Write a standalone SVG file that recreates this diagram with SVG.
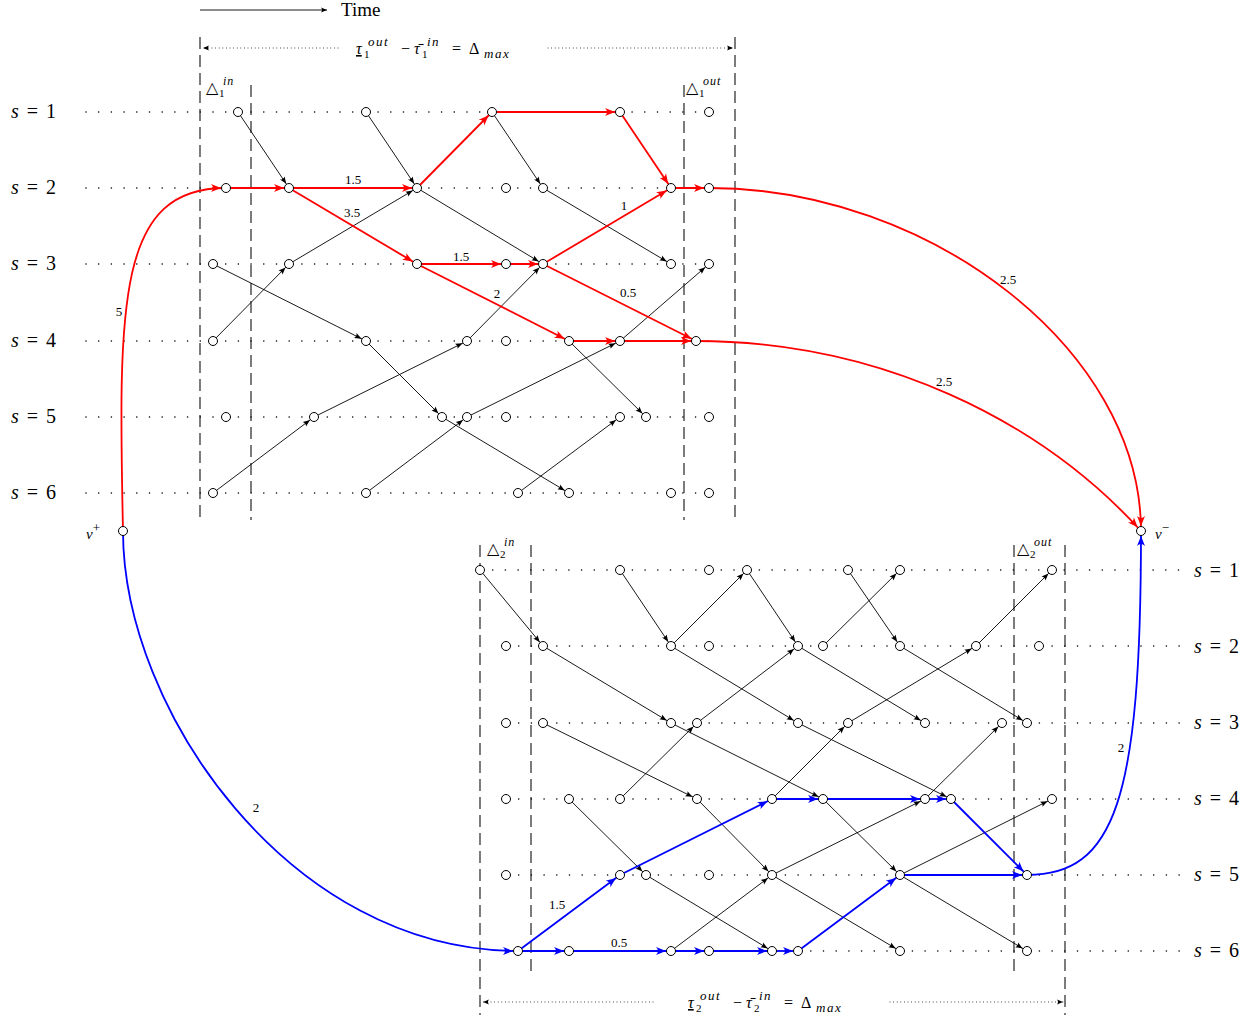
<svg xmlns="http://www.w3.org/2000/svg" width="1257" height="1018" viewBox="0 0 1257 1018">
<style>
text{font-family:"Liberation Serif","DejaVu Serif",serif;fill:#000}
.it{font-style:italic}
.row{stroke:#000;stroke-width:1.6;stroke-dasharray:0 12.7;stroke-linecap:round;fill:none}
.fd{stroke:#000;stroke-width:0.9;stroke-dasharray:0 3.6;stroke-linecap:round;fill:none}
.dash{stroke:#111;stroke-width:1.1;stroke-dasharray:12 6;fill:none}
.k{stroke:#000;stroke-width:0.9;fill:none;marker-end:url(#ak)}
.r{stroke:#f00;stroke-width:1.8;fill:none;marker-end:url(#ar)}
.b{stroke:#00f;stroke-width:1.8;fill:none;marker-end:url(#ab)}
.n{fill:#fff;stroke:#000;stroke-width:1}
.el{font-size:13px;text-anchor:middle;fill:#000}
.sl{font-size:20px;word-spacing:3px}
</style>
<defs>
<marker id="ak" markerUnits="userSpaceOnUse" viewBox="-20 -10 30 20" markerWidth="30" markerHeight="20" refX="5" refY="0" orient="auto" overflow="visible"><path d="M0,0 L-7,-2.8 Q-5,0 -7,2.8 Z" fill="#000"/></marker>
<marker id="ar" markerUnits="userSpaceOnUse" viewBox="-20 -10 30 20" markerWidth="30" markerHeight="20" refX="5" refY="0" orient="auto" overflow="visible"><path d="M0,0 L-10,-4 Q-6,0 -10,4 Z" fill="#f00"/></marker>
<marker id="ab" markerUnits="userSpaceOnUse" viewBox="-20 -10 30 20" markerWidth="30" markerHeight="20" refX="5" refY="0" orient="auto" overflow="visible"><path d="M0,0 L-10,-4 Q-6,0 -10,4 Z" fill="#00f"/></marker>
<marker id="as" markerUnits="userSpaceOnUse" viewBox="-20 -10 30 20" markerWidth="30" markerHeight="20" refX="0" refY="0" orient="auto" overflow="visible"><path d="M0,0 L-6,-2.5 Q-4,0 -6,2.5 Z" fill="#000"/></marker>
</defs>

<g id="header">
<line x1="200" y1="10" x2="327" y2="10" stroke="#000" stroke-width="0.9" marker-end="url(#as)"/>
<text x="341" y="16" font-size="19">Time</text>
<line class="fd" x1="338" y1="48" x2="203" y2="48" marker-end="url(#as)"/>
<line class="fd" x1="548" y1="48" x2="733" y2="48" marker-end="url(#as)"/>
<text y="54" font-size="16"><tspan x="356" class="it" text-decoration="underline">τ</tspan><tspan x="364" dy="4" font-size="11">1</tspan><tspan x="368" dy="-12" font-size="13" class="it" letter-spacing="1.5">out</tspan><tspan x="401" dy="8">−</tspan><tspan x="414" class="it">τ̄</tspan><tspan x="422" dy="4" font-size="11">1</tspan><tspan x="427" dy="-12" font-size="13" class="it" letter-spacing="1.5">in</tspan><tspan x="452" dy="8">=</tspan><tspan x="469">Δ</tspan><tspan x="484" dy="4" font-size="13" class="it" letter-spacing="1.5">max</tspan></text>
<line class="fd" x1="653" y1="1002" x2="483" y2="1002" marker-end="url(#as)"/>
<line class="fd" x1="890" y1="1002" x2="1063" y2="1002" marker-end="url(#as)"/>
<text y="1008" font-size="16"><tspan x="688" class="it" text-decoration="underline">τ</tspan><tspan x="696" dy="4" font-size="11">2</tspan><tspan x="700" dy="-12" font-size="13" class="it" letter-spacing="1.5">out</tspan><tspan x="733" dy="8">−</tspan><tspan x="746" class="it">τ̄</tspan><tspan x="754" dy="4" font-size="11">2</tspan><tspan x="759" dy="-12" font-size="13" class="it" letter-spacing="1.5">in</tspan><tspan x="784" dy="8">=</tspan><tspan x="801">Δ</tspan><tspan x="816" dy="4" font-size="13" class="it" letter-spacing="1.5">max</tspan></text>
<text y="93" font-size="16"><tspan x="206">△</tspan><tspan x="219" dy="4" font-size="11">1</tspan><tspan x="223" dy="-12" font-size="12" class="it" letter-spacing="1">in</tspan></text>
<text y="93" font-size="16"><tspan x="686">△</tspan><tspan x="699" dy="4" font-size="11">1</tspan><tspan x="703" dy="-12" font-size="12" class="it" letter-spacing="1">out</tspan></text>
<text y="554" font-size="16"><tspan x="487">△</tspan><tspan x="500" dy="4" font-size="11">2</tspan><tspan x="504" dy="-12" font-size="12" class="it" letter-spacing="1">in</tspan></text>
<text y="554" font-size="16"><tspan x="1017">△</tspan><tspan x="1030" dy="4" font-size="11">2</tspan><tspan x="1034" dy="-12" font-size="12" class="it" letter-spacing="1">out</tspan></text>
</g>

<g id="grid">
<line class="row" x1="86" y1="112" x2="709" y2="112"/>
<line class="row" x1="86" y1="188" x2="709" y2="188"/>
<line class="row" x1="86" y1="264" x2="709" y2="264"/>
<line class="row" x1="86" y1="341" x2="709" y2="341"/>
<line class="row" x1="86" y1="417" x2="709" y2="417"/>
<line class="row" x1="86" y1="493" x2="709" y2="493"/>
<line class="row" x1="480" y1="570" x2="1182" y2="570"/>
<line class="row" x1="506" y1="646" x2="1182" y2="646"/>
<line class="row" x1="506" y1="723" x2="1182" y2="723"/>
<line class="row" x1="506" y1="799" x2="1182" y2="799"/>
<line class="row" x1="506" y1="875" x2="1182" y2="875"/>
<line class="row" x1="506" y1="951" x2="1182" y2="951"/>
<line class="dash" x1="200" y1="37" x2="200" y2="520"/>
<line class="dash" x1="735" y1="37" x2="735" y2="520"/>
<line class="dash" x1="251" y1="85" x2="251" y2="520"/>
<line class="dash" x1="684" y1="85" x2="684" y2="520"/>
<line class="dash" x1="480" y1="545" x2="480" y2="1015"/>
<line class="dash" x1="1065" y1="545" x2="1065" y2="1015"/>
<line class="dash" x1="531" y1="545" x2="531" y2="977"/>
<line class="dash" x1="1014" y1="545" x2="1014" y2="977"/>
<text class="sl" x="11" y="118"><tspan class="it">s</tspan> = 1</text>
<text class="sl" x="11" y="194"><tspan class="it">s</tspan> = 2</text>
<text class="sl" x="11" y="270"><tspan class="it">s</tspan> = 3</text>
<text class="sl" x="11" y="347"><tspan class="it">s</tspan> = 4</text>
<text class="sl" x="11" y="423"><tspan class="it">s</tspan> = 5</text>
<text class="sl" x="11" y="499"><tspan class="it">s</tspan> = 6</text>
<text class="sl" x="1194" y="577"><tspan class="it">s</tspan> = 1</text>
<text class="sl" x="1194" y="653"><tspan class="it">s</tspan> = 2</text>
<text class="sl" x="1194" y="729"><tspan class="it">s</tspan> = 3</text>
<text class="sl" x="1194" y="805"><tspan class="it">s</tspan> = 4</text>
<text class="sl" x="1194" y="881"><tspan class="it">s</tspan> = 5</text>
<text class="sl" x="1194" y="957"><tspan class="it">s</tspan> = 6</text>
</g>

<g id="connectors">
<g id="black-edges">
<line class="k" x1="238" y1="112" x2="289" y2="188"/>
<line class="k" x1="366" y1="112" x2="417" y2="188"/>
<line class="k" x1="492" y1="112" x2="543" y2="188"/>
<line class="k" x1="543" y1="188" x2="671" y2="264"/>
<line class="k" x1="417" y1="188" x2="543" y2="264"/>
<line class="k" x1="289" y1="264" x2="417" y2="188"/>
<line class="k" x1="213" y1="341" x2="289" y2="264"/>
<line class="k" x1="213" y1="264" x2="366" y2="341"/>
<line class="k" x1="366" y1="341" x2="442" y2="417"/>
<line class="k" x1="467" y1="341" x2="543" y2="264"/>
<line class="k" x1="314" y1="417" x2="467" y2="341"/>
<line class="k" x1="213" y1="493" x2="314" y2="417"/>
<line class="k" x1="366" y1="493" x2="467" y2="417"/>
<line class="k" x1="467" y1="417" x2="620" y2="341"/>
<line class="k" x1="442" y1="417" x2="569" y2="493"/>
<line class="k" x1="620" y1="341" x2="709" y2="264"/>
<line class="k" x1="569" y1="341" x2="646" y2="417"/>
<line class="k" x1="518" y1="493" x2="620" y2="417"/>
<line class="k" x1="480" y1="570" x2="543" y2="646"/>
<line class="k" x1="620" y1="570" x2="671" y2="646"/>
<line class="k" x1="671" y1="646" x2="747" y2="570"/>
<line class="k" x1="747" y1="570" x2="798" y2="646"/>
<line class="k" x1="823" y1="646" x2="900" y2="570"/>
<line class="k" x1="848" y1="570" x2="900" y2="646"/>
<line class="k" x1="900" y1="646" x2="1027" y2="723"/>
<line class="k" x1="976" y1="646" x2="1052" y2="570"/>
<line class="k" x1="543" y1="646" x2="671" y2="723"/>
<line class="k" x1="671" y1="646" x2="798" y2="723"/>
<line class="k" x1="798" y1="646" x2="925" y2="723"/>
<line class="k" x1="697" y1="723" x2="798" y2="646"/>
<line class="k" x1="848" y1="723" x2="976" y2="646"/>
<line class="k" x1="543" y1="723" x2="697" y2="799"/>
<line class="k" x1="620" y1="799" x2="697" y2="723"/>
<line class="k" x1="671" y1="723" x2="823" y2="799"/>
<line class="k" x1="798" y1="723" x2="951" y2="799"/>
<line class="k" x1="772" y1="799" x2="848" y2="723"/>
<line class="k" x1="925" y1="799" x2="1002" y2="723"/>
<line class="k" x1="569" y1="799" x2="646" y2="875"/>
<line class="k" x1="697" y1="799" x2="772" y2="875"/>
<line class="k" x1="646" y1="875" x2="772" y2="951"/>
<line class="k" x1="671" y1="951" x2="772" y2="875"/>
<line class="k" x1="823" y1="799" x2="900" y2="875"/>
<line class="k" x1="772" y1="875" x2="925" y2="799"/>
<line class="k" x1="900" y1="875" x2="1052" y2="799"/>
<line class="k" x1="772" y1="875" x2="900" y2="951"/>
<line class="k" x1="900" y1="875" x2="1027" y2="951"/>
</g>
<g id="red-path">
<path class="r" d="M123,531 C118,300 118,188 226,188"/>
<line class="r" x1="226" y1="188" x2="289" y2="188"/>
<line class="r" x1="289" y1="188" x2="417" y2="188"/>
<line class="r" x1="417" y1="188" x2="492" y2="112"/>
<line class="r" x1="492" y1="112" x2="620" y2="112"/>
<line class="r" x1="620" y1="112" x2="671" y2="188"/>
<line class="r" x1="671" y1="188" x2="709" y2="188"/>
<line class="r" x1="289" y1="188" x2="417" y2="264"/>
<line class="r" x1="417" y1="264" x2="506" y2="264"/>
<line class="r" x1="506" y1="264" x2="543" y2="264"/>
<line class="r" x1="543" y1="264" x2="671" y2="188"/>
<line class="r" x1="417" y1="264" x2="569" y2="341"/>
<line class="r" x1="543" y1="264" x2="696" y2="341"/>
<line class="r" x1="569" y1="341" x2="620" y2="341"/>
<line class="r" x1="620" y1="341" x2="696" y2="341"/>
<path class="r" d="M709,188 C930,188 1141,350 1141,531"/>
<path class="r" d="M696,341 C880,341 1040,420 1141,531"/>
</g>
<g id="blue-path">
<path class="b" d="M123,531 C123,710 290,951 518,951"/>
<line class="b" x1="518" y1="951" x2="569" y2="951"/>
<line class="b" x1="569" y1="951" x2="671" y2="951"/>
<line class="b" x1="671" y1="951" x2="709" y2="951"/>
<line class="b" x1="709" y1="951" x2="772" y2="951"/>
<line class="b" x1="772" y1="951" x2="798" y2="951"/>
<line class="b" x1="798" y1="951" x2="900" y2="875"/>
<line class="b" x1="900" y1="875" x2="1027" y2="875"/>
<line class="b" x1="518" y1="951" x2="620" y2="875"/>
<line class="b" x1="620" y1="875" x2="772" y2="799"/>
<line class="b" x1="772" y1="799" x2="823" y2="799"/>
<line class="b" x1="823" y1="799" x2="925" y2="799"/>
<line class="b" x1="925" y1="799" x2="951" y2="799"/>
<line class="b" x1="951" y1="799" x2="1027" y2="875"/>
<path class="b" d="M1027,875 C1115,875 1141,800 1141,531"/>
</g>
<g id="edge-labels">
<text class="el" x="353" y="184">1.5</text>
<text class="el" x="352" y="217">3.5</text>
<text class="el" x="461" y="261">1.5</text>
<text class="el" x="624" y="210">1</text>
<text class="el" x="497" y="298">2</text>
<text class="el" x="628" y="297">0.5</text>
<text class="el" x="119" y="316">5</text>
<text class="el" x="1008" y="284">2.5</text>
<text class="el" x="944" y="386">2.5</text>
<text class="el" x="256" y="812">2</text>
<text class="el" x="557" y="909">1.5</text>
<text class="el" x="619" y="947">0.5</text>
<text class="el" x="1121" y="752">2</text>
</g>
</g>

<g id="nodes">
<g id="vplus"><circle class="n" cx="123" cy="531" r="4.5"/><text x="86" y="539" font-size="15"><tspan class="it">v</tspan><tspan dy="-7" font-size="13">+</tspan></text></g>
<g id="vminus"><circle class="n" cx="1141" cy="531" r="4.5"/><text x="1155" y="539" font-size="15"><tspan class="it">v</tspan><tspan dy="-7" font-size="13">−</tspan></text></g>
<g id="t1-238"><circle class="n" cx="238" cy="112" r="4.5"/></g>
<g id="t1-366"><circle class="n" cx="366" cy="112" r="4.5"/></g>
<g id="t1-492"><circle class="n" cx="492" cy="112" r="4.5"/></g>
<g id="t1-620"><circle class="n" cx="620" cy="112" r="4.5"/></g>
<g id="t1-709"><circle class="n" cx="709" cy="112" r="4.5"/></g>
<g id="t2-226"><circle class="n" cx="226" cy="188" r="4.5"/></g>
<g id="t2-289"><circle class="n" cx="289" cy="188" r="4.5"/></g>
<g id="t2-417"><circle class="n" cx="417" cy="188" r="4.5"/></g>
<g id="t2-506"><circle class="n" cx="506" cy="188" r="4.5"/></g>
<g id="t2-543"><circle class="n" cx="543" cy="188" r="4.5"/></g>
<g id="t2-671"><circle class="n" cx="671" cy="188" r="4.5"/></g>
<g id="t2-709"><circle class="n" cx="709" cy="188" r="4.5"/></g>
<g id="t3-213"><circle class="n" cx="213" cy="264" r="4.5"/></g>
<g id="t3-289"><circle class="n" cx="289" cy="264" r="4.5"/></g>
<g id="t3-417"><circle class="n" cx="417" cy="264" r="4.5"/></g>
<g id="t3-506"><circle class="n" cx="506" cy="264" r="4.5"/></g>
<g id="t3-543"><circle class="n" cx="543" cy="264" r="4.5"/></g>
<g id="t3-671"><circle class="n" cx="671" cy="264" r="4.5"/></g>
<g id="t3-709"><circle class="n" cx="709" cy="264" r="4.5"/></g>
<g id="t4-213"><circle class="n" cx="213" cy="341" r="4.5"/></g>
<g id="t4-366"><circle class="n" cx="366" cy="341" r="4.5"/></g>
<g id="t4-467"><circle class="n" cx="467" cy="341" r="4.5"/></g>
<g id="t4-506"><circle class="n" cx="506" cy="341" r="4.5"/></g>
<g id="t4-569"><circle class="n" cx="569" cy="341" r="4.5"/></g>
<g id="t4-620"><circle class="n" cx="620" cy="341" r="4.5"/></g>
<g id="t4-696"><circle class="n" cx="696" cy="341" r="4.5"/></g>
<g id="t5-226"><circle class="n" cx="226" cy="417" r="4.5"/></g>
<g id="t5-314"><circle class="n" cx="314" cy="417" r="4.5"/></g>
<g id="t5-442"><circle class="n" cx="442" cy="417" r="4.5"/></g>
<g id="t5-467"><circle class="n" cx="467" cy="417" r="4.5"/></g>
<g id="t5-506"><circle class="n" cx="506" cy="417" r="4.5"/></g>
<g id="t5-620"><circle class="n" cx="620" cy="417" r="4.5"/></g>
<g id="t5-646"><circle class="n" cx="646" cy="417" r="4.5"/></g>
<g id="t5-709"><circle class="n" cx="709" cy="417" r="4.5"/></g>
<g id="t6-213"><circle class="n" cx="213" cy="493" r="4.5"/></g>
<g id="t6-366"><circle class="n" cx="366" cy="493" r="4.5"/></g>
<g id="t6-518"><circle class="n" cx="518" cy="493" r="4.5"/></g>
<g id="t6-569"><circle class="n" cx="569" cy="493" r="4.5"/></g>
<g id="t6-671"><circle class="n" cx="671" cy="493" r="4.5"/></g>
<g id="t6-709"><circle class="n" cx="709" cy="493" r="4.5"/></g>
<g id="b1-480"><circle class="n" cx="480" cy="570" r="4.5"/></g>
<g id="b1-620"><circle class="n" cx="620" cy="570" r="4.5"/></g>
<g id="b1-709"><circle class="n" cx="709" cy="570" r="4.5"/></g>
<g id="b1-747"><circle class="n" cx="747" cy="570" r="4.5"/></g>
<g id="b1-848"><circle class="n" cx="848" cy="570" r="4.5"/></g>
<g id="b1-900"><circle class="n" cx="900" cy="570" r="4.5"/></g>
<g id="b1-1052"><circle class="n" cx="1052" cy="570" r="4.5"/></g>
<g id="b2-506"><circle class="n" cx="506" cy="646" r="4.5"/></g>
<g id="b2-543"><circle class="n" cx="543" cy="646" r="4.5"/></g>
<g id="b2-671"><circle class="n" cx="671" cy="646" r="4.5"/></g>
<g id="b2-709"><circle class="n" cx="709" cy="646" r="4.5"/></g>
<g id="b2-798"><circle class="n" cx="798" cy="646" r="4.5"/></g>
<g id="b2-823"><circle class="n" cx="823" cy="646" r="4.5"/></g>
<g id="b2-900"><circle class="n" cx="900" cy="646" r="4.5"/></g>
<g id="b2-976"><circle class="n" cx="976" cy="646" r="4.5"/></g>
<g id="b2-1039"><circle class="n" cx="1039" cy="646" r="4.5"/></g>
<g id="b3-506"><circle class="n" cx="506" cy="723" r="4.5"/></g>
<g id="b3-543"><circle class="n" cx="543" cy="723" r="4.5"/></g>
<g id="b3-671"><circle class="n" cx="671" cy="723" r="4.5"/></g>
<g id="b3-697"><circle class="n" cx="697" cy="723" r="4.5"/></g>
<g id="b3-798"><circle class="n" cx="798" cy="723" r="4.5"/></g>
<g id="b3-848"><circle class="n" cx="848" cy="723" r="4.5"/></g>
<g id="b3-925"><circle class="n" cx="925" cy="723" r="4.5"/></g>
<g id="b3-1002"><circle class="n" cx="1002" cy="723" r="4.5"/></g>
<g id="b3-1027"><circle class="n" cx="1027" cy="723" r="4.5"/></g>
<g id="b4-506"><circle class="n" cx="506" cy="799" r="4.5"/></g>
<g id="b4-569"><circle class="n" cx="569" cy="799" r="4.5"/></g>
<g id="b4-620"><circle class="n" cx="620" cy="799" r="4.5"/></g>
<g id="b4-697"><circle class="n" cx="697" cy="799" r="4.5"/></g>
<g id="b4-772"><circle class="n" cx="772" cy="799" r="4.5"/></g>
<g id="b4-823"><circle class="n" cx="823" cy="799" r="4.5"/></g>
<g id="b4-925"><circle class="n" cx="925" cy="799" r="4.5"/></g>
<g id="b4-951"><circle class="n" cx="951" cy="799" r="4.5"/></g>
<g id="b4-1052"><circle class="n" cx="1052" cy="799" r="4.5"/></g>
<g id="b5-506"><circle class="n" cx="506" cy="875" r="4.5"/></g>
<g id="b5-620"><circle class="n" cx="620" cy="875" r="4.5"/></g>
<g id="b5-646"><circle class="n" cx="646" cy="875" r="4.5"/></g>
<g id="b5-709"><circle class="n" cx="709" cy="875" r="4.5"/></g>
<g id="b5-772"><circle class="n" cx="772" cy="875" r="4.5"/></g>
<g id="b5-900"><circle class="n" cx="900" cy="875" r="4.5"/></g>
<g id="b5-1027"><circle class="n" cx="1027" cy="875" r="4.5"/></g>
<g id="b6-518"><circle class="n" cx="518" cy="951" r="4.5"/></g>
<g id="b6-569"><circle class="n" cx="569" cy="951" r="4.5"/></g>
<g id="b6-671"><circle class="n" cx="671" cy="951" r="4.5"/></g>
<g id="b6-709"><circle class="n" cx="709" cy="951" r="4.5"/></g>
<g id="b6-772"><circle class="n" cx="772" cy="951" r="4.5"/></g>
<g id="b6-798"><circle class="n" cx="798" cy="951" r="4.5"/></g>
<g id="b6-900"><circle class="n" cx="900" cy="951" r="4.5"/></g>
<g id="b6-1027"><circle class="n" cx="1027" cy="951" r="4.5"/></g>
</g>
</svg>
